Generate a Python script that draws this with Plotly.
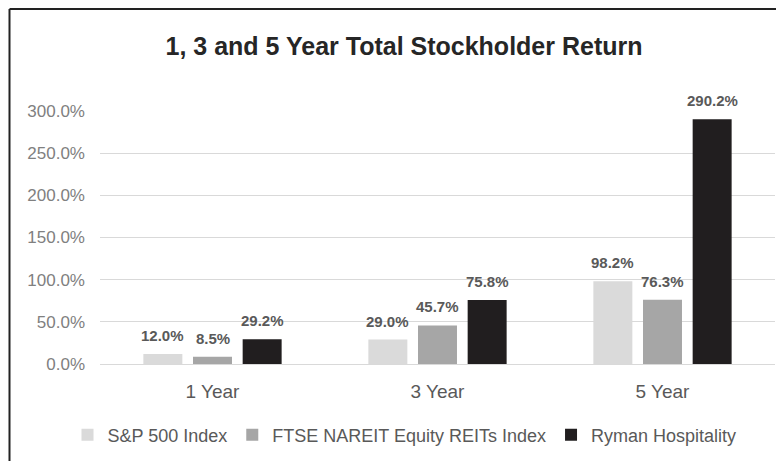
import plotly.graph_objects as go

categories = ["1 Year", "3 Year", "5 Year"]
sp500 = [12.0, 29.0, 98.2]
ftse = [8.5, 45.7, 76.3]
ryman = [29.2, 75.8, 290.2]
series_names = ["S&P 500 Index", "FTSE NAREIT Equity REITs Index", "Ryman Hospitality"]
colors = ["#dadada", "#a6a6a6", "#211e1f"]
tick_vals = [0, 50, 100, 150, 200, 250, 300]
tick_text = ["0.0%", "50.0%", "100.0%", "150.0%", "200.0%", "250.0%", "300.0%"]

FONT = "Liberation Sans, Arial, sans-serif"

# figure is offset 8px by the page body margin; sizes compensate for that
W, H = 776, 453
ML, MR, MT, MB = 92, 9, 103, 97
PW, PH = W - ML - MR, H - MT - MB
BAR_PITCH = 49.7  # pixel pitch between grouped bars (for label placement)

fig = go.Figure()
all_vals = [sp500, ftse, ryman]
for name, vals, col in zip(series_names, all_vals, colors):
    fig.add_trace(go.Bar(
        x=categories, y=vals, name=name, marker_color=col,
        marker_line_width=0, cliponaxis=False,
    ))

# value labels above bars
for i, vals in enumerate(all_vals):
    for cat, v in zip(categories, vals):
        fig.add_annotation(
            x=cat, y=v, xref="x", yref="y", text=f"{v:.1f}%",
            showarrow=False, yanchor="bottom", xanchor="center",
            xshift=(i - 1) * BAR_PITCH, yshift=8,
            font=dict(family=FONT, size=15, color="#595959", weight="bold"),
        )

fig.update_layout(
    width=W, height=H,
    margin=dict(l=ML, r=MR, t=MT, b=MB, autoexpand=False),
    paper_bgcolor="white", plot_bgcolor="white",
    barmode="group", bargap=0.338, bargroupgap=0.215,
    title=dict(text="<b>1, 3 and 5 Year Total Stockholder Return</b>",
               x=396 / W, xanchor="center", y=1 - 38 / H, yanchor="middle",
               font=dict(family=FONT, size=25, color="#262626")),
    font=dict(family=FONT),
    showlegend=True,
    legend=dict(orientation="h", x=(396.5 - ML) / PW, xanchor="center",
                y=-(427 - (H - MB)) / PH, yanchor="middle",
                font=dict(family=FONT, size=18, color="#595959"),
                itemwidth=30, traceorder="normal"),
    xaxis=dict(tickfont=dict(family=FONT, size=19, color="#595959"),
               showgrid=False, showline=False, ticks="", ticklabelstandoff=14),
    yaxis=dict(range=[0, 300], tickvals=tick_vals, ticktext=tick_text,
               tickfont=dict(family=FONT, size=17, color="#808080"),
               showgrid=True, gridcolor="#d9d9d9", gridwidth=1,
               zeroline=True, zerolinecolor="#d9d9d9", zerolinewidth=1,
               ticklabelstandoff=14, showline=False),
)

# frame lines (top and left) as in the reference image
fx = (1.5 - ML) / PW
fy = (H - MB - 1) / PH
fig.add_shape(type="line", xref="paper", yref="paper",
              x0=fx, x1=(W + 10 - ML) / PW, y0=fy, y1=fy,
              line=dict(color="#222222", width=2))
fig.add_shape(type="line", xref="paper", yref="paper",
              x0=fx, x1=fx, y0=fy, y1=-(MB + 10) / PH,
              line=dict(color="#222222", width=2))

fig.write_html("out.html")
